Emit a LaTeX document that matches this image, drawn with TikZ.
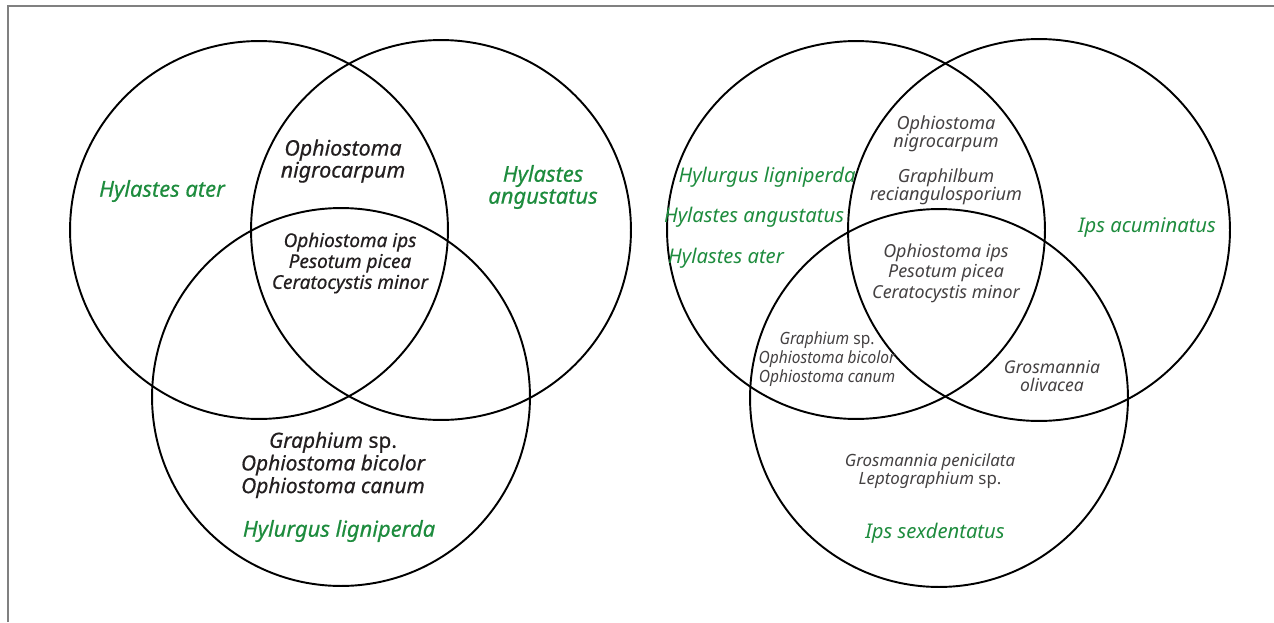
\documentclass[tikz,border=0pt]{standalone}
\usepackage{fontspec}
\setmainfont{Noto Sans}
\newfontfamily\boldish{Noto Sans}[FakeBold=0.5]
\newfontfamily\narrow{Noto Sans}[FakeStretch=0.92]
\usepackage{tikz}
\definecolor{beetle}{RGB}{30,140,62}
\definecolor{fungus}{RGB}{35,31,32}

\begin{document}
\begin{tikzpicture}[x=0.02cm, y=-0.02cm, line width=1.1pt,
    every node/.style={align=center, inner sep=0pt},
    lefttext/.style 2 args={font=\boldish\itshape\fontsize{#1}{#2}\selectfont, text=fungus},
    righttext/.style 2 args={font=\itshape\fontsize{#1}{#2}\selectfont, text=fungus!85},
    leftbeetle/.style={font=\boldish\itshape\fontsize{12.5}{12.5}\selectfont, text=beetle},
    rightbeetle/.style={font=\itshape\fontsize{11.5}{11}\selectfont, text=beetle}]
            \useasboundingbox (0,0) rectangle (1274,622);
            % Frame
            \draw[gray, line width=0.8pt] (8,622) -- (8,6) -- (1274,6);

            % Define circles
            \draw (259,230) circle [radius=3.78cm];
            \draw (441,230) circle [radius=3.8cm];
            \draw (341,397) circle [radius=3.78cm];

            \draw (856,230) circle [radius=3.78cm];
            \draw (1039,230) circle [radius=3.82cm];
            \draw (939,398) circle [radius=3.78cm];

            % Labels, left diagram
            \node (ater) [leftbeetle] at (162,191) {Hylastes ater};
            \node (angustatus) [leftbeetle] at (543,187) {Hylastes\\angustatus};
            \node (ligniperda) [leftbeetle] at (339,531) {Hylurgus ligniperda};
            \node (nigro) [lefttext={12.2}{12.5}] at (343,161) {Ophiostoma\\nigrocarpum};
            \node (core) [lefttext={10.8}{11.9}] at (350,263) {Ophiostoma ips\\Pesotum picea\\Ceratocystis minor};
            \node (graph) [lefttext={11.9}{12.9}] at (333,465) {Graphium {\upshape sp.}\\Ophiostoma bicolor\\Ophiostoma canum};

            % Labels, right diagram
            \node (rlig) [rightbeetle] at (767,177) {Hylurgus ligniperda};
            \node (rang) [rightbeetle] at (754,217) {Hylastes angustatus};
            \node (rater) [rightbeetle] at (726,258) {Hylastes ater};
            \node (acum) [rightbeetle] at (1147,227) {Ips acuminatus};
            \node (sexd) [rightbeetle] at (935,533) {Ips sexdentatus};
            \node (rnigro) [righttext={10.3}{10.5}] at (946,134) {Ophiostoma\\nigrocarpum};
            \node (graphil) [righttext={10.3}{10.5}] at (946,187) {Graphilbum\\reciangulosporium};
            \node (rcore) [righttext={10.2}{11.6}] at (946,273) {Ophiostoma ips\\Pesotum picea\\Ceratocystis minor};
            \node (rgraph) [righttext={9.6}{10.8}, font=\narrow\itshape\fontsize{9.6}{10.8}\selectfont] at (827,359) {Graphium {\upshape sp.}\\Ophiostoma bicolor\\Ophiostoma canum};
            \node (oliv) [righttext={10}{10.2}] at (1052,376) {Grosmannia\\olivacea};
            \node (penic) [righttext={9.6}{10.2}] at (930,471) {Grosmannia penicilata\\Leptographium {\upshape sp.}};
        \end{tikzpicture}
\end{document}
